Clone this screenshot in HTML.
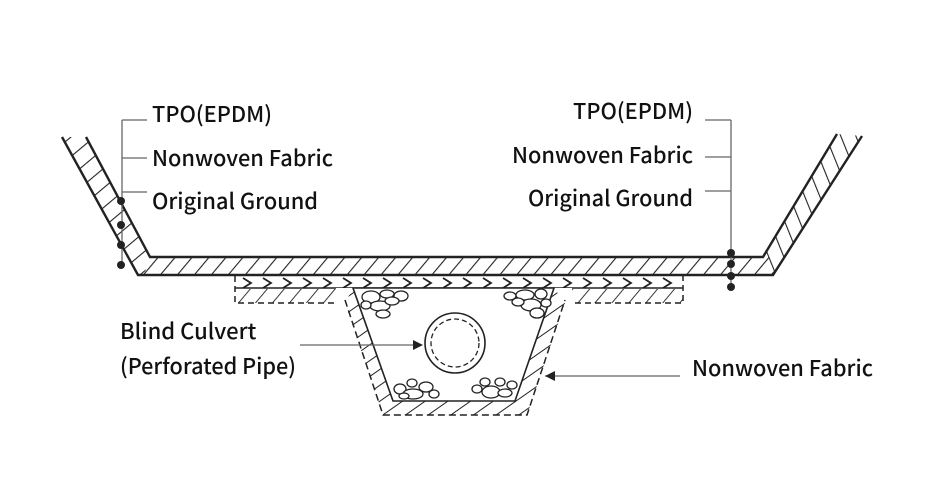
<!DOCTYPE html>
<html><head><meta charset="utf-8"><style>
body{margin:0;background:#fff}
svg{display:block}
text{font-family:"Noto Sans CJK JP","Liberation Sans",sans-serif;font-size:22px;font-weight:500;fill:#111}
</style></head><body>
<svg width="930" height="500" viewBox="0 0 930 500" xmlns="http://www.w3.org/2000/svg">
<defs>
<pattern id="hl" patternUnits="userSpaceOnUse" width="15" height="15" patternTransform="rotate(50)">
<line x1="0" y1="0" x2="0" y2="15" stroke="#222" stroke-width="2.2"/></pattern>
<pattern id="hr" patternUnits="userSpaceOnUse" width="14" height="14" patternTransform="rotate(-22)">
<line x1="0" y1="0" x2="0" y2="14" stroke="#222" stroke-width="2.2"/></pattern>
<pattern id="hb" patternUnits="userSpaceOnUse" width="13" height="13" patternTransform="rotate(40)">
<line x1="0" y1="0" x2="0" y2="13" stroke="#222" stroke-width="2.2"/></pattern>
<pattern id="h2" patternUnits="userSpaceOnUse" width="13" height="13" patternTransform="rotate(55)">
<line x1="0" y1="0" x2="0" y2="13" stroke="#222" stroke-width="2"/></pattern>
<pattern id="h3" patternUnits="userSpaceOnUse" width="13" height="13" patternTransform="rotate(40)">
<line x1="0" y1="0" x2="0" y2="13" stroke="#222" stroke-width="1.8"/></pattern>
<pattern id="chev" patternUnits="userSpaceOnUse" width="20" height="12" x="0" y="277">
<polyline points="3,1 11,6 3,11" fill="none" stroke="#222" stroke-width="1.8"/></pattern>
</defs>
<rect x="235" y="277" width="448" height="11" fill="url(#chev)"/>
<rect x="235" y="289" width="448" height="14" fill="url(#h3)"/>
<line x1="235" y1="288" x2="683" y2="288" stroke="#222" stroke-width="1.5"/>
<path d="M235,276 V303 H345 M565,303 H683 V276" fill="none" stroke="#222" stroke-width="1.5" stroke-dasharray="6,4"/>
<rect x="336" y="288" width="236" height="130" fill="#fff"/>
<polygon points="345,303 353,288 393,401 515,401 554,288 565,303 527,415 383,415" fill="url(#h2)"/>
<polygon points="353,288 554,288 515,401 393,401" fill="#fff" stroke="#222" stroke-width="1.6"/>
<path d="M345,300 L383,415 H527 L565,300" fill="none" stroke="#222" stroke-width="1.5" stroke-dasharray="7,4"/>
<g fill="#fff" stroke="#222" stroke-width="1.3">
<ellipse cx="371" cy="297" rx="9" ry="6"/><ellipse cx="387" cy="294" rx="7" ry="4"/><ellipse cx="401" cy="296" rx="7" ry="5"/><ellipse cx="380" cy="306" rx="10" ry="5"/><ellipse cx="392" cy="301" rx="7" ry="4"/><ellipse cx="383" cy="314" rx="7" ry="4"/><ellipse cx="366" cy="305" rx="5" ry="4"/>
<ellipse cx="510" cy="296" rx="6" ry="4"/><ellipse cx="525" cy="295" rx="9" ry="5"/><ellipse cx="541" cy="294" rx="6" ry="5"/><ellipse cx="531" cy="305" rx="10" ry="6"/><ellipse cx="518" cy="302" rx="6" ry="4"/><ellipse cx="537" cy="313" rx="7" ry="5"/><ellipse cx="546" cy="303" rx="5" ry="4"/>
<ellipse cx="400" cy="389" rx="6" ry="5"/><ellipse cx="412" cy="383" rx="5" ry="4"/><ellipse cx="413" cy="394" rx="10" ry="5"/><ellipse cx="426" cy="387" rx="7" ry="5"/><ellipse cx="434" cy="394" rx="5" ry="4"/><ellipse cx="404" cy="396" rx="5" ry="3"/>
<ellipse cx="477" cy="389" rx="5" ry="4"/><ellipse cx="491" cy="392" rx="9" ry="6"/><ellipse cx="500" cy="382" rx="5" ry="4"/><ellipse cx="505" cy="393" rx="7" ry="4"/><ellipse cx="512" cy="385" rx="5" ry="4"/><ellipse cx="485" cy="382" rx="5" ry="4"/>
</g>
<circle cx="455" cy="343" r="30" fill="#fff" stroke="#222" stroke-width="1.6"/>
<circle cx="455" cy="343" r="24" fill="none" stroke="#222" stroke-width="1.3" stroke-dasharray="5,3"/>
<polygon points="62,137 86,137 150,257 144,275 138,275" fill="url(#hl)"/>
<polygon points="144,257 769,257 775,275 138,275" fill="url(#hb)"/>
<polygon points="837,134 862,136 773,275 763,257" fill="url(#hr)"/>
<path d="M62,137 L138,275 H773 L862,136 M86,137 L150,257 H763 L837,134" fill="none" stroke="#222" stroke-width="2.4"/>
<g stroke="#666" stroke-width="1.3" fill="none">
<path d="M122,120 V266 M122,120 H147 M122,158 H147 M122,192 H147"/>
<path d="M731,120 V285 M705,120 H731 M705,157 H731 M705,191 H731"/>
<path d="M300,345 H420 M545,376 H680"/>
</g>
<polygon points="423,345 413,340 413,350" fill="#222"/>
<polygon points="545,376 555,371 555,381" fill="#222"/>
<g fill="#222">
<circle cx="121" cy="201" r="4"/><circle cx="121" cy="225" r="4"/><circle cx="121" cy="245" r="4"/><circle cx="121" cy="265" r="4"/>
<circle cx="731" cy="253" r="4"/><circle cx="731" cy="264" r="4"/><circle cx="731" cy="276" r="4"/><circle cx="731" cy="287" r="4"/>
</g>
<text x="152" y="122" textLength="120" lengthAdjust="spacingAndGlyphs">TPO(EPDM)</text>
<text x="152" y="166" textLength="181" lengthAdjust="spacingAndGlyphs">Nonwoven Fabric</text>
<text x="152" y="209" textLength="166" lengthAdjust="spacingAndGlyphs">Original Ground</text>
<text x="573" y="119" textLength="120" lengthAdjust="spacingAndGlyphs">TPO(EPDM)</text>
<text x="512" y="163" textLength="181" lengthAdjust="spacingAndGlyphs">Nonwoven Fabric</text>
<text x="528" y="206" textLength="165" lengthAdjust="spacingAndGlyphs">Original Ground</text>
<text x="120" y="339">Blind Culvert</text>
<text x="120" y="374" textLength="176" lengthAdjust="spacingAndGlyphs">(Perforated Pipe)</text>
<text x="692" y="376" textLength="181" lengthAdjust="spacingAndGlyphs">Nonwoven Fabric</text>
</svg>
</body></html>
